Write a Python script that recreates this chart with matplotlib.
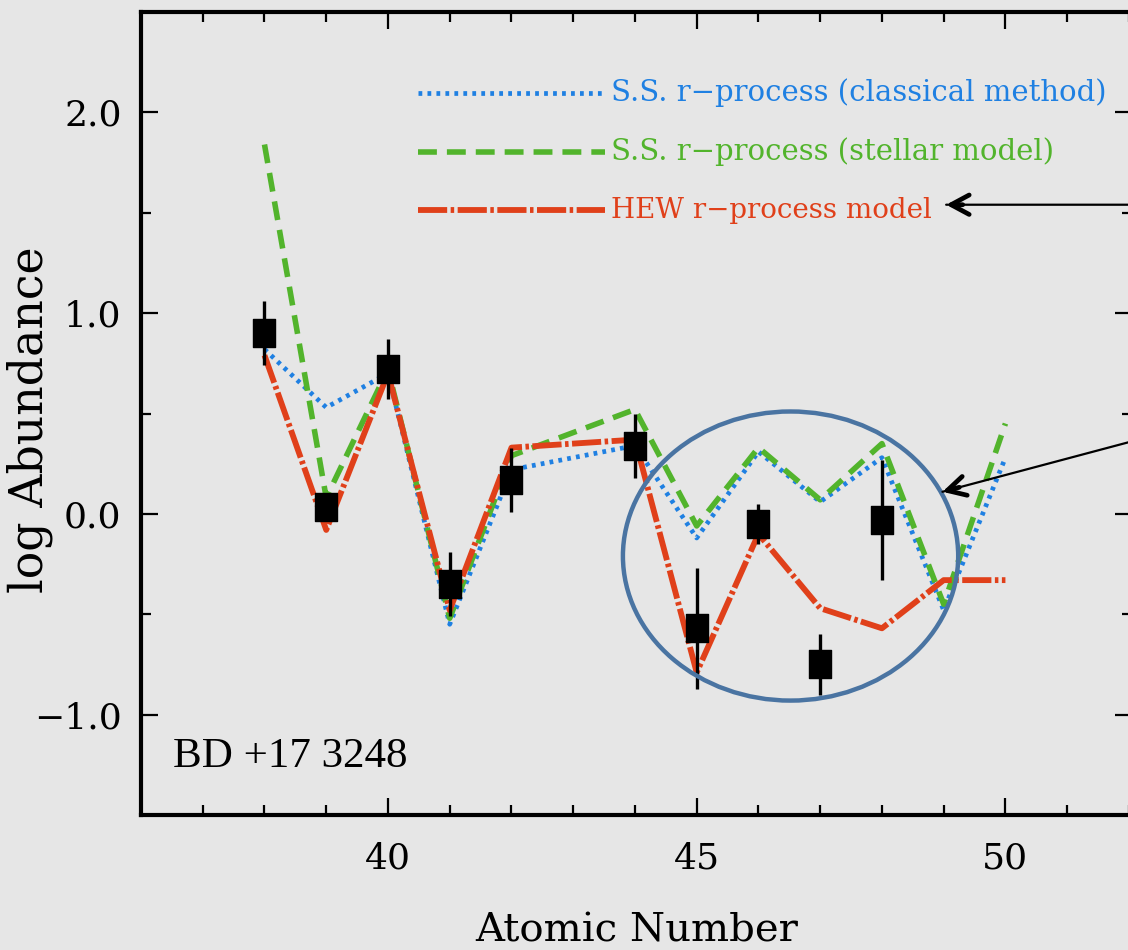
import matplotlib
matplotlib.use("Agg")
import matplotlib.pyplot as plt
from matplotlib.patches import Ellipse
from matplotlib.path import Path
from matplotlib.ticker import MultipleLocator, FormatStrFormatter, FuncFormatter

# Atomic numbers of the model curves (Tc, Z=43, is skipped)
z_model = [38, 39, 40, 41, 42, 44, 45, 46, 47, 48, 49, 50]
ss_classical = [0.82, 0.53, 0.70, -0.55, 0.22, 0.34, -0.12, 0.31, 0.06, 0.28, -0.48, 0.28]
ss_stellar = [1.84, 0.08, 0.72, -0.52, 0.29, 0.52, -0.06, 0.33, 0.07, 0.35, -0.45, 0.45]
hew_model = [0.79, -0.08, 0.70, -0.48, 0.33, 0.37, -0.79, -0.10, -0.47, -0.57, -0.33, -0.33]

# Observed abundances of BD +17 3248
z_obs = [38, 39, 40, 41, 42, 44, 45, 46, 47, 48]
log_eps = [0.90, 0.035, 0.72, -0.35, 0.17, 0.34, -0.57, -0.05, -0.75, -0.03]
log_err = [0.16, 0.05, 0.15, 0.16, 0.16, 0.16, 0.30, 0.10, 0.15, 0.30]

labels = ["S.S. r\u2212process (classical method)",
          "S.S. r\u2212process (stellar model)",
          "HEW r\u2212process model"]
label_sizes = [21, 21, 20]

BG = "#e6e6e6"
BLUE = "#1f80e2"
GREEN = "#52b42c"
RED = "#e0401a"
SERIF = ["DejaVu Serif"]

W, H = 1128, 950
fig = plt.figure(figsize=(W / 100, H / 100), dpi=100, facecolor=BG)
ax = fig.add_axes([141 / W, 135 / H, 991 / W, 803 / H])
ax.set_facecolor(BG)

styles = [
    dict(color=BLUE, lw=3.4, dashes=(0.8, 1.1)),
    dict(color=GREEN, lw=4.0, dashes=(3.4, 1.8)),
    dict(color=RED, lw=4.2, dashes=(5.0, 0.6, 0.6, 0.6)),
]
for ys, st in zip([ss_classical, ss_stellar, hew_model], styles):
    ax.plot(z_model, ys, zorder=3, **st)

# Tall rectangular marker
rect = Path([(-0.37, -0.5), (0.37, -0.5), (0.37, 0.5), (-0.37, 0.5), (-0.37, -0.5)],
            [Path.MOVETO, Path.LINETO, Path.LINETO, Path.LINETO, Path.CLOSEPOLY])
ax.errorbar(z_obs, log_eps, yerr=log_err, fmt="none", ecolor="black",
            elinewidth=2.4, capsize=0, zorder=5)
ax.plot(z_obs, log_eps, linestyle="none", marker=rect, markersize=20.5,
        color="black", zorder=6)

# Legend drawn inside the axes
ax_w = 991
x0, x1, xt = (418 - 141) / ax_w, (605 - 141) / ax_w, (611 - 141) / ax_w
for i, (lab, st, fs) in enumerate(zip(labels, styles, label_sizes)):
    yy = (815 - (93 + 58.5 * i)) / 803
    ax.plot([x0, x1], [yy, yy], transform=ax.transAxes, zorder=4, **st)
    ax.text(xt, yy, lab, transform=ax.transAxes, color=st["color"],
            fontsize=fs, family=SERIF, va="center", ha="left")

ax.text((173 - 141) / ax_w, (815 - 757) / 803, "BD +17 3248", transform=ax.transAxes,
        fontsize=31, family=["Liberation Serif"], va="center", ha="left")

# Highlighted region
ax.add_patch(Ellipse((46.52, -0.21), 5.43, 1.44, fill=False, edgecolor="#4a74a2",
                     lw=3.2, zorder=7))

# Pointer arrows from the right margin
for tip, tail in [((49.04, 1.54), (52.4, 1.54)), ((48.98, 0.11), (52.4, 0.39))]:
    ax.annotate("", xy=tip, xytext=tail, annotation_clip=False, zorder=8,
                arrowprops=dict(arrowstyle="-", color="black", lw=1.6,
                                shrinkA=0, shrinkB=0))
    dx, dy = tail[0] - tip[0], tail[1] - tip[1]
    near = (tip[0] + dx * 0.08, tip[1] + dy * 0.08)
    ax.annotate("", xy=tip, xytext=near, annotation_clip=False, zorder=8,
                arrowprops=dict(arrowstyle="->,head_length=1.3,head_width=0.7",
                                color="black", lw=3.4, shrinkA=0, shrinkB=0))

ax.set_xlim(36, 52.05)
ax.set_ylim(-1.5, 2.5)
ax.xaxis.set_major_locator(MultipleLocator(5))
ax.xaxis.set_minor_locator(MultipleLocator(1))
ax.yaxis.set_major_locator(MultipleLocator(1))
ax.yaxis.set_minor_locator(MultipleLocator(0.5))
ax.xaxis.set_major_formatter(FormatStrFormatter("%d"))
ax.yaxis.set_major_formatter(FuncFormatter(
    lambda v, p: f"{v:.1f}".replace("-", "\u2212")))
ax.tick_params(which="both", direction="in", top=True, right=True, width=1.6,
               colors="black")
ax.tick_params(which="major", length=12, labelsize=26, pad=14)
ax.tick_params(axis="x", which="major", pad=19)
ax.tick_params(which="minor", length=7)
for lab in ax.get_xticklabels() + ax.get_yticklabels():
    lab.set_family(SERIF)
for sp in ax.spines.values():
    sp.set_linewidth(3.0)

ax.set_xlabel("Atomic Number", fontsize=29, family=SERIF, labelpad=27)
fig.text(30 / W, 1 - 420 / H, "log Abundance", rotation=90, fontsize=33,
         family=SERIF, ha="center", va="center")

fig.savefig("out.png", dpi=100, facecolor=BG)
